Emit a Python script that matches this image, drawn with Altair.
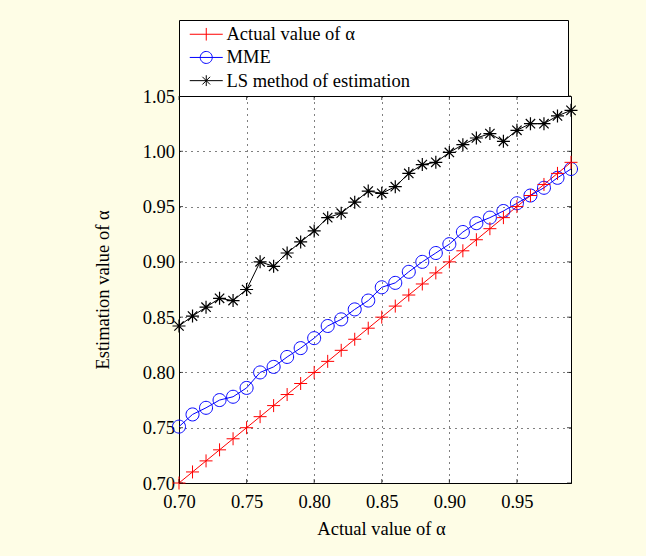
import altair as alt
import pandas as pd

# ---- data ----
alpha = [0.70, 0.71, 0.72, 0.73, 0.74, 0.75, 0.76, 0.77, 0.78, 0.79,
         0.80, 0.81, 0.82, 0.83, 0.84, 0.85, 0.86, 0.87, 0.88, 0.89,
         0.90, 0.91, 0.92, 0.93, 0.94, 0.95, 0.96, 0.97, 0.98, 0.99]
actual = [0.70, 0.71, 0.72, 0.73, 0.74, 0.75, 0.76, 0.77, 0.78, 0.79,
          0.80, 0.81, 0.82, 0.83, 0.84, 0.85, 0.86, 0.87, 0.88, 0.89,
          0.90, 0.91, 0.92, 0.93, 0.94, 0.95, 0.96, 0.97, 0.98, 0.99]
mme = [0.751, 0.762, 0.768, 0.775, 0.778, 0.786, 0.800, 0.805, 0.814, 0.822,
       0.831, 0.842, 0.848, 0.857, 0.865, 0.877, 0.881, 0.891, 0.900, 0.908,
       0.916, 0.927, 0.935, 0.940, 0.946, 0.953, 0.960, 0.967, 0.976, 0.984]
ls = [0.842, 0.851, 0.859, 0.867, 0.865, 0.875, 0.900, 0.896, 0.908, 0.918,
      0.928, 0.940, 0.944, 0.954, 0.964, 0.962, 0.968, 0.980, 0.988, 0.990,
      0.999, 1.006, 1.012, 1.016, 1.009, 1.019, 1.025, 1.025, 1.032, 1.037]

names = ["Actual value of α", "MME", "LS method of estimation"]
colors = ["#ff0000", "#0000ff", "#000000"]
x_ticks = [0.70, 0.75, 0.80, 0.85, 0.90, 0.95]
y_ticks = [0.70, 0.75, 0.80, 0.85, 0.90, 0.95, 1.00, 1.05]

rows = []
for name, vals in zip(names, [actual, mme, ls]):
    for a, v in zip(alpha, vals):
        rows.append({"x": a, "y": v, "series": name})
df = pd.DataFrame(rows)
xt_df = pd.DataFrame({"x": x_ticks})
yt_df = pd.DataFrame({"y": y_ticks})

# ---- marker shapes ----
PLUS = "M-1,0L1,0M0,-1L0,1"
CIRC = "M1,0A1,1 0 1,1 -1,0A1,1 0 1,1 1,0"
STAR = "M-1,0L1,0M0,-1L0,1M-0.72,-0.72L0.72,0.72M-0.72,0.72L0.72,-0.72"
LEG_PLUS = "M-2.75,0L2.75,0M0,-1.05L0,1.05"
LEG_CIRC = "M-2.75,0L2.75,0M1,0A1,1 0 1,1 -1,0A1,1 0 1,1 1,0"
LEG_STAR = "M-2.75,0L2.75,0M0,-0.9L0,0.9M-0.64,-0.64L0.64,0.64M-0.64,0.64L0.64,-0.64"

FONT = "Liberation Serif"
FS = 18.5
W, H = 392, 387

color_scale = alt.Scale(domain=names, range=colors)
x_scale = alt.Scale(domain=[0.70, 0.99], nice=False, zero=False)
y_scale = alt.Scale(domain=[0.70, 1.05], nice=False, zero=False)

x_enc = alt.X("x:Q", scale=x_scale,
              axis=alt.Axis(values=x_ticks, format=".2f", title="Actual value of α",
                            labelBaseline="alphabetic", labelPadding=24, labelFlush=False,
                            labelOverlap=False,
                            titleX=202, titleY=51.6, titleBaseline="alphabetic",
                            titleAlign="center"))
y_enc = alt.Y("y:Q", scale=y_scale,
              axis=alt.Axis(values=y_ticks, format=".2f", title="Estimation value of α",
                            labelPadding=4.5, labelFlush=False, labelOverlap=False,
                            titleX=-71, titleY=193.5, titleAngle=-90,
                            titleBaseline="alphabetic", titleAlign="center"))

pad = "\u00a0" * 33 + "\u200b"
legend = alt.Legend(title=None, orient="none", legendX=0, legendY=-76,
                    direction="vertical", fillColor="white", strokeColor="black",
                    padding=5, rowPadding=4.2, symbolSize=144, symbolStrokeWidth=1,
                    symbolOpacity=1, symbolFillColor="transparent",
                    symbolOffset=13, labelOffset=11, labelFont=FONT, labelFontSize=FS,
                    labelColor="black", labelLimit=800,
                    labelExpr="datum.label + '" + pad + "'")

base = alt.Chart(df).encode(x=x_enc, y=y_enc)

# invisible layer that only carries the legend (marker + line symbols)
leg_layer = base.mark_point(filled=False, opacity=0, size=0).encode(
    color=alt.Color("series:N", scale=color_scale, legend=legend),
    shape=alt.Shape("series:N", scale=alt.Scale(domain=names,
                    range=[LEG_PLUS, LEG_CIRC, LEG_STAR]), legend=legend))

lines = base.mark_line(strokeWidth=1, clip=False).encode(
    color=alt.Color("series:N", scale=color_scale, legend=legend))

def pts(name, shape, col, sw=1.0):
    return base.transform_filter(alt.datum.series == name).mark_point(
        shape=shape, filled=False, stroke=col, strokeWidth=sw, size=169, opacity=1)

p_blue = pts(names[1], CIRC, colors[1])
p_red = pts(names[0], PLUS, colors[0])
p_black = pts(names[2], STAR, colors[2], 1.2)

# inward axis ticks on all four sides (MATLAB style)
TL = 4
xt = alt.Chart(xt_df).encode(x=x_enc)
yt = alt.Chart(yt_df).encode(y=y_enc)
tick_b = xt.mark_tick(orient="vertical", size=TL, thickness=1, color="black").encode(
    y=alt.value(H - TL / 2))
tick_t = xt.mark_tick(orient="vertical", size=TL, thickness=1, color="black").encode(
    y=alt.value(TL / 2))
tick_l = yt.mark_tick(orient="horizontal", size=TL, thickness=1, color="black").encode(
    x=alt.value(TL / 2))
tick_r = yt.mark_tick(orient="horizontal", size=TL, thickness=1, color="black").encode(
    x=alt.value(W - TL / 2))

chart = alt.layer(leg_layer, lines, p_blue, p_red, p_black,
                  tick_b, tick_t, tick_l, tick_r).properties(
    width=W, height=H,
    autosize="none",
    padding={"left": 179, "top": 96, "right": 75, "bottom": 73},
    background="#fefde6",
).configure_view(
    stroke="black", strokeWidth=1, fill="white"
).configure_axis(
    labelFont=FONT, labelFontSize=FS, labelColor="black",
    titleFont=FONT, titleFontSize=FS, titleFontWeight="normal", titleColor="black",
    domainColor="black", domainWidth=1, ticks=False,
    grid=True, gridColor="black", gridDash=[1, 5], gridOpacity=1, gridWidth=1,
)

chart.save("out.html", embed_options={"renderer": "svg", "actions": False})
